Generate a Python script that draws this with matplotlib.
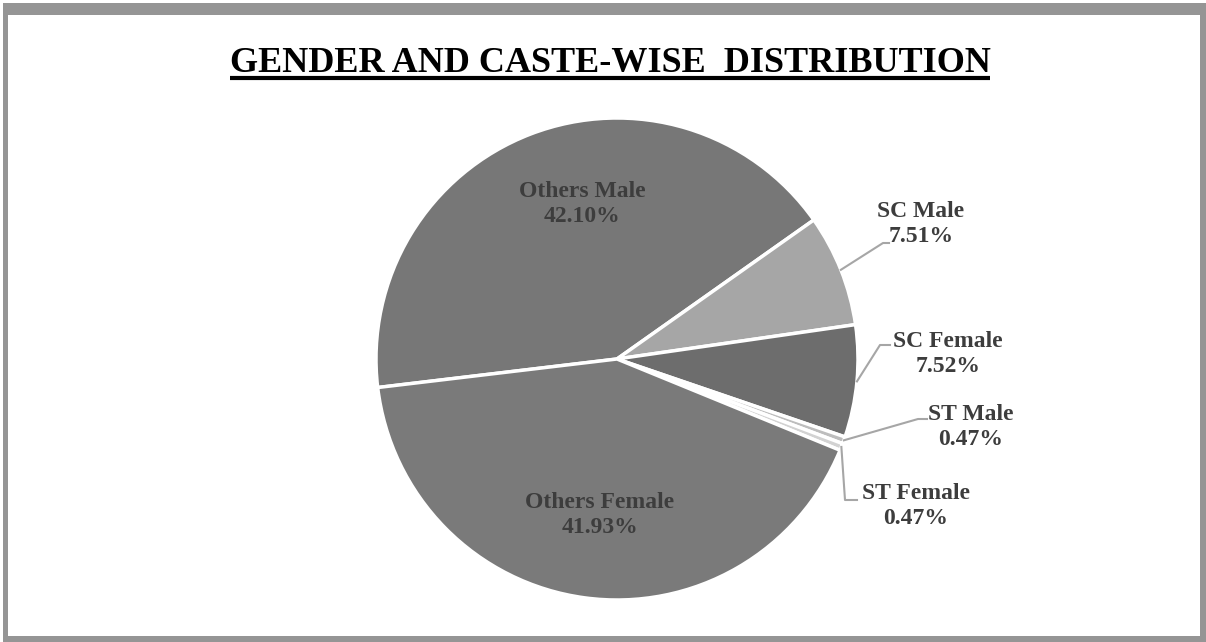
import numpy as np
import matplotlib
matplotlib.use("Agg")
import matplotlib.pyplot as plt
from matplotlib.patches import Rectangle

# data
categories = ["Others Male", "SC Male", "SC Female", "ST Male", "ST Female", "Others Female"]
shares = [42.10, 7.51, 7.52, 0.47, 0.47, 41.93]
colors = ["#777777", "#a6a6a6", "#6d6d6d", "#bdbdbd", "#d2d2d2", "#7a7a7a"]
title = "GENDER AND CASTE-WISE  DISTRIBUTION"

W, H = 1206, 642
plt.rcParams["font.family"] = ["Liberation Serif", "DejaVu Serif"]

fig = plt.figure(figsize=(W / 100, H / 100), dpi=100)
ax = fig.add_axes([0, 0, 1, 1])

def py(y):
    # pixel row (top down) -> data y (bottom up)
    return H - y

# frame
ax.add_patch(Rectangle((3, 0), W - 3, H - 3, facecolor="#959595", edgecolor="none", zorder=0))
ax.add_patch(Rectangle((8, py(636)), 1192, 621, facecolor="white", edgecolor="none", zorder=0))

# pie
cx, cy, r = 617, py(359), 241
wedges, _ = ax.pie(shares, colors=colors, startangle=186.8, counterclock=False,
                   center=(cx, cy), radius=r,
                   wedgeprops=dict(edgecolor="white", linewidth=2.5))

ax.set_xlim(0, W)
ax.set_ylim(0, H)
ax.set_aspect("auto")
ax.axis("off")

# title with underline
ax.text(610, py(63), title, ha="center", va="center", fontsize=26,
        fontweight="bold", color="black")
ax.plot([230, 990], [py(78), py(78)], color="black", lw=3, solid_capstyle="butt")

# label spots (text centres) and leader elbows, in pixels
label_pos = [(582, 204), (921, 224), (948, 354), (971, 427), (916, 506), (600, 515)]
elbows = [None, [(883, 243), (889, 243)], [(880, 345), (890, 345)],
          [(918, 419), (927, 419)], [(845, 500), (857, 500)], None]

for w, name, val, (lx, ly), el in zip(wedges, categories, shares, label_pos, elbows):
    txt = f"{name}\n{val:.2f}%"
    ax.text(lx, py(ly), txt, ha="center", va="center", fontsize=17,
            fontweight="bold", color="#3d3d3d", linespacing=1.3)
    if el is not None:
        mid = np.deg2rad((w.theta1 + w.theta2) / 2)
        x0 = cx + r * np.cos(mid)
        y0 = cy + r * np.sin(mid)
        xs = [x0] + [p[0] for p in el]
        ys = [y0] + [py(p[1]) for p in el]
        ax.plot(xs, ys, color="#a6a6a6", lw=1.5)

fig.savefig("out.png", dpi=100)
